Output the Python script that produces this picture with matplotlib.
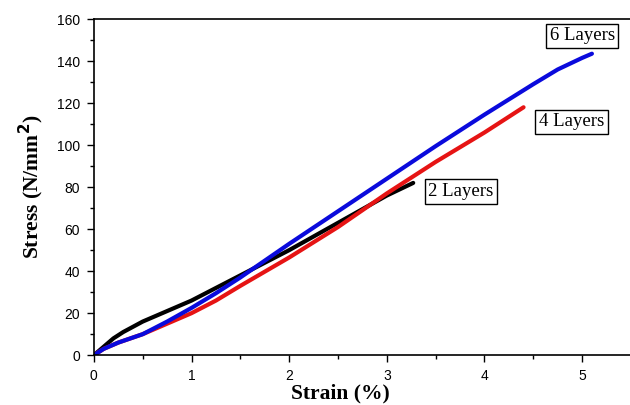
import numpy as np
import matplotlib.pyplot as plt

# 读图估计的数据
strain_2 = [0, 0.1, 0.2, 0.3, 0.5, 0.75, 1.0, 1.25, 1.5, 2.0, 2.5, 3.0, 3.27]
stress_2 = [0, 4, 8, 11, 16, 21, 26, 32, 38, 50, 63, 76, 82]

strain_4 = [0, 0.1, 0.25, 0.5, 0.75, 1.0, 1.25, 1.5, 2.0, 2.5, 3.0, 3.5, 4.0, 4.4]
stress_4 = [0, 3, 6, 10, 15, 20, 26, 33, 46.5, 61, 77, 92, 106, 118]

strain_6 = [0, 0.1, 0.25, 0.5, 0.75, 1.0, 1.25, 1.5, 2.0, 2.5, 3.0, 3.5, 4.0, 4.5, 4.75, 5.0, 5.1]
stress_6 = [0, 3, 6, 10, 16, 22.5, 29.5, 37, 53, 68.5, 84, 99.5, 114.5, 129, 136, 141.5, 143.5]

labels = ['2 Layers', '4 Layers', '6 Layers']
label_pos = [(3.76, 78), (4.89, 111), (5.0, 152)]

fig = plt.figure(figsize=(6.3, 4.05), dpi=100)
ax = fig.add_axes([0.149, 0.123, 0.851, 0.83])

ax.plot(strain_2, stress_2, color='black', lw=3, solid_capstyle='round')
ax.plot(strain_4, stress_4, color='#e61414', lw=3, solid_capstyle='round')
ax.plot(strain_6, stress_6, color='#0a0adc', lw=3, solid_capstyle='round')

for txt, (x, y) in zip(labels, label_pos):
    ax.text(x, y, txt, family='Liberation Serif', fontsize=13.5, ha='center', va='center',
            bbox=dict(boxstyle='square,pad=0.2', fc='white', ec='black', lw=1))

ax.set_xlim(0, 5.49)
ax.set_ylim(0, 160)
ax.set_xticks([0, 1, 2, 3, 4, 5])
ax.set_xticks(np.arange(0.5, 5.5, 1), minor=True)
ax.set_yticks(np.arange(0, 161, 20))
ax.set_yticks(np.arange(10, 160, 20), minor=True)
ax.tick_params(which='major', direction='out', length=5, width=1, labelsize=10, colors='black', pad=5)
ax.tick_params(which='minor', direction='out', length=3, width=1)
for lab in ax.get_xticklabels() + ax.get_yticklabels():
    lab.set_family('Liberation Sans')
ax.spines['right'].set_visible(False)
for s in ['left', 'bottom', 'top']:
    ax.spines[s].set_linewidth(1.2)

ax.set_xlabel('Strain (%)', family='Liberation Serif', fontweight='bold', fontsize=15.5)
ax.set_ylabel('Stress (N/mm$^{\\mathbf{2}}$)', family='Liberation Serif', fontweight='bold', fontsize=15.5)
ax.xaxis.set_label_coords(0.459, -0.085)
ax.yaxis.set_label_coords(-0.09, 0.5)

fig.savefig('out.png', dpi=100)
